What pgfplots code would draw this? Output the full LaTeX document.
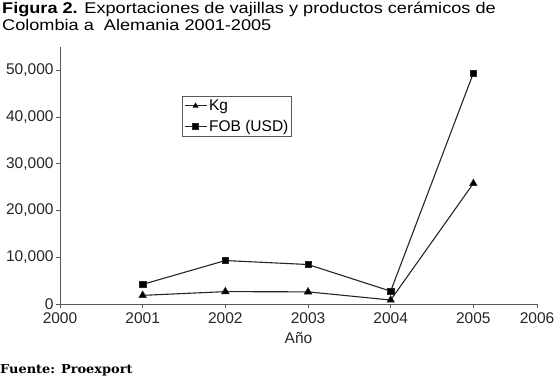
\documentclass[border=0pt]{standalone}
\usepackage{fontspec}
\setmainfont{Liberation Sans}
\newfontfamily\titlefont[FakeStretch=1.17]{Liberation Sans}
\newfontfamily\fuentefont[FakeStretch=1.05]{DejaVu Serif}
\usepackage{pgfplots}
\pgfplotsset{compat=1.18}
\begin{document}
\begin{tikzpicture}[x=1bp,y=1bp]
\path[use as bounding box] (0,0) rectangle (555,377);
\node[anchor=north west, inner sep=0pt, align=left, font=\titlefont\fontsize{15.5bp}{17bp}\selectfont] at (2,375)
 {\textbf{Figura 2.} Exportaciones de vajillas y productos cerámicos de\\Colombia a\ \ Alemania 2001-2005};
\begin{axis}[
  at={(60bp,73bp)}, anchor=south west,
  scale only axis, width=477bp, height=257bp,
  xmin=2000, xmax=2005.77, ymin=0, ymax=55000,
  axis lines=left, axis line style={-, line width=0.9bp, black!65},
  xtick={2000,2001,2002,2003,2004,2005,2005.77},
  xticklabels={2000,2001,2002,2003,2004,2005,2006},
  ytick={0,10000,20000,30000,40000,50000},
  scaled ticks=false,
  /pgf/number format/assume math mode=true,
  /pgf/number format/1000 sep={,},
  tick align=outside, major tick length=4bp,
  tick style={black!65, line width=0.9bp},
  tick label style={font=\fontsize{15.5bp}{17bp}\selectfont, text=black!85},
  xticklabel style={yshift=-1bp},
  xlabel={Año}, xlabel style={font=\fontsize{15.5bp}{17bp}\selectfont, text=black!85, yshift=-2bp},
  yticklabel style={xshift=1bp},
  legend style={at={(0.256,0.81)}, anchor=north west, draw=black!65, line width=0.9bp,
    font=\fontsize{15.5bp}{17bp}\selectfont, inner sep=1.5bp, row sep=4bp,
    legend cell align=left},
  legend image code/.code={\draw[mark repeat=2,mark phase=2,mark size=3bp] plot coordinates {(0bp,0bp)(11bp,0bp)(22bp,0bp)};},
]
\addplot[black!85, line width=1.1bp, mark=triangle*, mark size=4.4bp, mark options={solid, fill=black, line width=0.5bp}]
 coordinates {(2001,1850) (2002,2650) (2003,2600) (2004,850) (2005,25800)};
\addlegendentry{Kg}
\addplot[black!85, line width=1.1bp, mark=square*, mark size=3.1bp, mark options={solid, fill=black, line width=0.5bp}]
 coordinates {(2001,4200) (2002,9300) (2003,8450) (2004,2750) (2005,49400)};
\addlegendentry{FOB (USD)}
\end{axis}
\node[anchor=base west, inner sep=0pt, font=\fuentefont\bfseries\fontsize{12.3bp}{14bp}\selectfont] at (0,4) {Fuente: Proexport};
\end{tikzpicture}
\end{document}
